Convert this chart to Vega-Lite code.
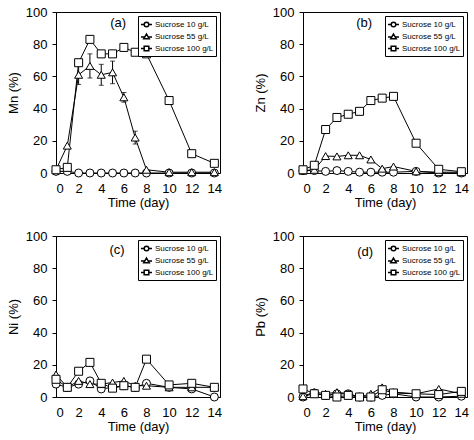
{
  "$schema": "https://vega.github.io/schema/vega-lite/v6.json",
  "padding": {"left": 6, "top": 5, "right": 5, "bottom": 5},
  "bounds": "flush",
  "spacing": {"row": 63, "column": 83},
  "columns": 2,
  "datasets": {
    "Mn": [
      {"d":0,"s":"Sucrose 10 g/L","v":1},{"d":1,"s":"Sucrose 10 g/L","v":1},{"d":2,"s":"Sucrose 10 g/L","v":0},{"d":3,"s":"Sucrose 10 g/L","v":0},{"d":4,"s":"Sucrose 10 g/L","v":0},{"d":5,"s":"Sucrose 10 g/L","v":0},{"d":6,"s":"Sucrose 10 g/L","v":0},{"d":7,"s":"Sucrose 10 g/L","v":0},{"d":8,"s":"Sucrose 10 g/L","v":0},{"d":10,"s":"Sucrose 10 g/L","v":0},{"d":12,"s":"Sucrose 10 g/L","v":0},{"d":14,"s":"Sucrose 10 g/L","v":0},
      {"d":0,"s":"Sucrose 55 g/L","v":2},{"d":1,"s":"Sucrose 55 g/L","v":17},{"d":2,"s":"Sucrose 55 g/L","v":61,"lo":55,"hi":67},{"d":3,"s":"Sucrose 55 g/L","v":66.5,"lo":59,"hi":74},{"d":4,"s":"Sucrose 55 g/L","v":61,"lo":54.5,"hi":67.5},{"d":5,"s":"Sucrose 55 g/L","v":62.5,"lo":55.5,"hi":69.5},{"d":6,"s":"Sucrose 55 g/L","v":47,"lo":44,"hi":50},{"d":7,"s":"Sucrose 55 g/L","v":22,"lo":18,"hi":26},{"d":8,"s":"Sucrose 55 g/L","v":2},{"d":10,"s":"Sucrose 55 g/L","v":0.5},{"d":12,"s":"Sucrose 55 g/L","v":0.5},{"d":14,"s":"Sucrose 55 g/L","v":0.5},
      {"d":0,"s":"Sucrose 100 g/L","v":2},{"d":1,"s":"Sucrose 100 g/L","v":3.5},{"d":2,"s":"Sucrose 100 g/L","v":68.5},{"d":3,"s":"Sucrose 100 g/L","v":83},{"d":4,"s":"Sucrose 100 g/L","v":74},{"d":5,"s":"Sucrose 100 g/L","v":74},{"d":6,"s":"Sucrose 100 g/L","v":78},{"d":7,"s":"Sucrose 100 g/L","v":75},{"d":8,"s":"Sucrose 100 g/L","v":74},{"d":10,"s":"Sucrose 100 g/L","v":45},{"d":12,"s":"Sucrose 100 g/L","v":12},{"d":14,"s":"Sucrose 100 g/L","v":6}
    ],
    "Zn": [
      {"d":0,"s":"Sucrose 10 g/L","v":1.5},{"d":1,"s":"Sucrose 10 g/L","v":1.5},{"d":2,"s":"Sucrose 10 g/L","v":1},{"d":3,"s":"Sucrose 10 g/L","v":1.5},{"d":4,"s":"Sucrose 10 g/L","v":1},{"d":5,"s":"Sucrose 10 g/L","v":0.5},{"d":6,"s":"Sucrose 10 g/L","v":0.5},{"d":7,"s":"Sucrose 10 g/L","v":0.5},{"d":8,"s":"Sucrose 10 g/L","v":0.5},{"d":10,"s":"Sucrose 10 g/L","v":1},{"d":12,"s":"Sucrose 10 g/L","v":0},{"d":14,"s":"Sucrose 10 g/L","v":0},
      {"d":0,"s":"Sucrose 55 g/L","v":1.5},{"d":1,"s":"Sucrose 55 g/L","v":2},{"d":2,"s":"Sucrose 55 g/L","v":10.5},{"d":3,"s":"Sucrose 55 g/L","v":10.3},{"d":4,"s":"Sucrose 55 g/L","v":11},{"d":5,"s":"Sucrose 55 g/L","v":11},{"d":6,"s":"Sucrose 55 g/L","v":8.4},{"d":7,"s":"Sucrose 55 g/L","v":2.7},{"d":8,"s":"Sucrose 55 g/L","v":4},{"d":10,"s":"Sucrose 55 g/L","v":1},{"d":12,"s":"Sucrose 55 g/L","v":0.5},{"d":14,"s":"Sucrose 55 g/L","v":0.5},
      {"d":0,"s":"Sucrose 100 g/L","v":2},{"d":1,"s":"Sucrose 100 g/L","v":4.8},{"d":2,"s":"Sucrose 100 g/L","v":27},{"d":3,"s":"Sucrose 100 g/L","v":34.5},{"d":4,"s":"Sucrose 100 g/L","v":36.5},{"d":5,"s":"Sucrose 100 g/L","v":38.3},{"d":6,"s":"Sucrose 100 g/L","v":45},{"d":7,"s":"Sucrose 100 g/L","v":46.5},{"d":8,"s":"Sucrose 100 g/L","v":47.6},{"d":10,"s":"Sucrose 100 g/L","v":18.5},{"d":12,"s":"Sucrose 100 g/L","v":2.3},{"d":14,"s":"Sucrose 100 g/L","v":0.8}
    ],
    "Ni": [
      {"d":0,"s":"Sucrose 10 g/L","v":8},{"d":1,"s":"Sucrose 10 g/L","v":6},{"d":2,"s":"Sucrose 10 g/L","v":8},{"d":3,"s":"Sucrose 10 g/L","v":10},{"d":4,"s":"Sucrose 10 g/L","v":5},{"d":5,"s":"Sucrose 10 g/L","v":6},{"d":6,"s":"Sucrose 10 g/L","v":7},{"d":7,"s":"Sucrose 10 g/L","v":6},{"d":8,"s":"Sucrose 10 g/L","v":8.5},{"d":10,"s":"Sucrose 10 g/L","v":6},{"d":12,"s":"Sucrose 10 g/L","v":5},{"d":14,"s":"Sucrose 10 g/L","v":0},
      {"d":0,"s":"Sucrose 55 g/L","v":14},{"d":1,"s":"Sucrose 55 g/L","v":6},{"d":2,"s":"Sucrose 55 g/L","v":10},{"d":3,"s":"Sucrose 55 g/L","v":8},{"d":4,"s":"Sucrose 55 g/L","v":8},{"d":5,"s":"Sucrose 55 g/L","v":9},{"d":6,"s":"Sucrose 55 g/L","v":10},{"d":7,"s":"Sucrose 55 g/L","v":7},{"d":8,"s":"Sucrose 55 g/L","v":7},{"d":10,"s":"Sucrose 55 g/L","v":6},{"d":12,"s":"Sucrose 55 g/L","v":6},{"d":14,"s":"Sucrose 55 g/L","v":6},
      {"d":0,"s":"Sucrose 100 g/L","v":11},{"d":1,"s":"Sucrose 100 g/L","v":6},{"d":2,"s":"Sucrose 100 g/L","v":16},{"d":3,"s":"Sucrose 100 g/L","v":21.5},{"d":4,"s":"Sucrose 100 g/L","v":8.5},{"d":5,"s":"Sucrose 100 g/L","v":5.5},{"d":6,"s":"Sucrose 100 g/L","v":7},{"d":7,"s":"Sucrose 100 g/L","v":6},{"d":8,"s":"Sucrose 100 g/L","v":23.5},{"d":10,"s":"Sucrose 100 g/L","v":7.5},{"d":12,"s":"Sucrose 100 g/L","v":8.5},{"d":14,"s":"Sucrose 100 g/L","v":6}
    ],
    "Pb": [
      {"d":0,"s":"Sucrose 10 g/L","v":0},{"d":1,"s":"Sucrose 10 g/L","v":2.5},{"d":2,"s":"Sucrose 10 g/L","v":1},{"d":3,"s":"Sucrose 10 g/L","v":2},{"d":4,"s":"Sucrose 10 g/L","v":2},{"d":5,"s":"Sucrose 10 g/L","v":0},{"d":6,"s":"Sucrose 10 g/L","v":0},{"d":7,"s":"Sucrose 10 g/L","v":1},{"d":8,"s":"Sucrose 10 g/L","v":2},{"d":10,"s":"Sucrose 10 g/L","v":0},{"d":12,"s":"Sucrose 10 g/L","v":0},{"d":14,"s":"Sucrose 10 g/L","v":0.5},
      {"d":0,"s":"Sucrose 55 g/L","v":0.5},{"d":1,"s":"Sucrose 55 g/L","v":3},{"d":2,"s":"Sucrose 55 g/L","v":2},{"d":3,"s":"Sucrose 55 g/L","v":3},{"d":4,"s":"Sucrose 55 g/L","v":2},{"d":5,"s":"Sucrose 55 g/L","v":0},{"d":6,"s":"Sucrose 55 g/L","v":2},{"d":7,"s":"Sucrose 55 g/L","v":6},{"d":8,"s":"Sucrose 55 g/L","v":3},{"d":10,"s":"Sucrose 55 g/L","v":2},{"d":12,"s":"Sucrose 55 g/L","v":5},{"d":14,"s":"Sucrose 55 g/L","v":2},
      {"d":0,"s":"Sucrose 100 g/L","v":5},{"d":1,"s":"Sucrose 100 g/L","v":2},{"d":2,"s":"Sucrose 100 g/L","v":1},{"d":3,"s":"Sucrose 100 g/L","v":0},{"d":4,"s":"Sucrose 100 g/L","v":1},{"d":5,"s":"Sucrose 100 g/L","v":0},{"d":6,"s":"Sucrose 100 g/L","v":0},{"d":7,"s":"Sucrose 100 g/L","v":4.5},{"d":8,"s":"Sucrose 100 g/L","v":2.5},{"d":10,"s":"Sucrose 100 g/L","v":2},{"d":12,"s":"Sucrose 100 g/L","v":1.5},{"d":14,"s":"Sucrose 100 g/L","v":3.5}
    ]
  },
  "concat": [
    {
      "width": 164, "height": 161,
      "data": {"name": "Mn"},
      "layer": [
        {"mark": {"type": "line", "color": "black", "strokeWidth": 1},
         "encoding": {
           "x": {"field": "d", "type": "quantitative", "scale": {"domain": [0, 14.5], "nice": false}, "axis": {"title": "Time (day)", "values": [0,2,4,6,8,10,12,14], "tickCount": 20, "labelOverlap": false}},
           "y": {"field": "v", "type": "quantitative", "scale": {"domain": [0, 100], "nice": false}, "axis": {"title": "Mn (%)", "values": [0,20,40,60,80,100], "tickCount": 20, "labelOverlap": false}},
           "detail": {"field": "s"}}},
        {"transform": [{"filter": "isValid(datum.lo)"}],
         "mark": {"type": "errorbar", "color": "black", "thickness": 1, "ticks": {"size": 5, "color": "black"}},
         "encoding": {
           "x": {"field": "d", "type": "quantitative"},
           "y": {"field": "lo", "type": "quantitative", "title": "Mn (%)"},
           "y2": {"field": "hi"}}},
        {"mark": {"type": "point", "filled": true, "fill": "white", "stroke": "black", "strokeWidth": 1, "size": 64, "opacity": 1},
         "encoding": {
           "x": {"field": "d", "type": "quantitative"},
           "y": {"field": "v", "type": "quantitative", "title": "Mn (%)"},
           "shape": {"field": "s", "type": "nominal", "scale": {"domain": ["Sucrose 10 g/L", "Sucrose 55 g/L", "Sucrose 100 g/L"], "range": ["circle", "triangle-up", "square"]}, "legend": null}}},
        {"transform": [{"filter": "datum.d < 0"}],
         "mark": {"type": "point", "filled": true, "fill": "white", "stroke": "black", "strokeWidth": 1, "size": 121, "opacity": 1},
         "encoding": {
           "shape": {"field": "s", "type": "nominal", "scale": {"domain": ["Sucrose 10 g/L", "Sucrose 55 g/L", "Sucrose 100 g/L"], "range": ["M-1,0H-0.42M0.42,0H1M0.42,0A0.42,0.42,0,1,1,-0.42,0A0.42,0.42,0,1,1,0.42,0Z", "M-1,0.1H-0.33M0.33,0.1H1M0,-0.45L0.5,0.4L-0.5,0.4Z", "M-1,0H-0.42M0.42,0H1M-0.42,-0.42H0.42V0.42H-0.42Z"]},
             "legend": {"title": null, "orient": "top-right", "offset": 4, "strokeColor": "black", "fillColor": "white", "padding": 2, "labelFontSize": 8, "labelOffset": 2, "rowPadding": 0, "symbolSize": 121,
               "encode": {"symbols": {"update": {"fill": {"value": "white"}, "stroke": {"value": "black"}, "strokeWidth": {"value": 1}, "opacity": {"value": 1}}}}}}}},
        {"data": {"values": [{}]},
         "mark": {"type": "text", "fontSize": 13, "color": "black"},
         "encoding": {"x": {"datum": 5.5, "type": "quantitative"}, "y": {"datum": 93, "type": "quantitative"}, "text": {"value": "(a)"}}}
      ],
      "resolve": {"scale": {"shape": "independent"}, "legend": {"shape": "independent"}}
    },
    {
      "width": 164, "height": 161,
      "data": {"name": "Zn"},
      "layer": [
        {"mark": {"type": "line", "color": "black", "strokeWidth": 1},
         "encoding": {
           "x": {"field": "d", "type": "quantitative", "scale": {"domain": [0, 14.5], "nice": false}, "axis": {"title": "Time (day)", "values": [0,2,4,6,8,10,12,14], "tickCount": 20, "labelOverlap": false}},
           "y": {"field": "v", "type": "quantitative", "scale": {"domain": [0, 100], "nice": false}, "axis": {"title": "Zn (%)", "values": [0,20,40,60,80,100], "tickCount": 20, "labelOverlap": false}},
           "detail": {"field": "s"}}},
        {"mark": {"type": "point", "filled": true, "fill": "white", "stroke": "black", "strokeWidth": 1, "size": 64, "opacity": 1},
         "encoding": {
           "x": {"field": "d", "type": "quantitative"},
           "y": {"field": "v", "type": "quantitative", "title": "Zn (%)"},
           "shape": {"field": "s", "type": "nominal", "scale": {"domain": ["Sucrose 10 g/L", "Sucrose 55 g/L", "Sucrose 100 g/L"], "range": ["circle", "triangle-up", "square"]}, "legend": null}}},
        {"transform": [{"filter": "datum.d < 0"}],
         "mark": {"type": "point", "filled": true, "fill": "white", "stroke": "black", "strokeWidth": 1, "size": 121, "opacity": 1},
         "encoding": {
           "shape": {"field": "s", "type": "nominal", "scale": {"domain": ["Sucrose 10 g/L", "Sucrose 55 g/L", "Sucrose 100 g/L"], "range": ["M-1,0H-0.42M0.42,0H1M0.42,0A0.42,0.42,0,1,1,-0.42,0A0.42,0.42,0,1,1,0.42,0Z", "M-1,0.1H-0.33M0.33,0.1H1M0,-0.45L0.5,0.4L-0.5,0.4Z", "M-1,0H-0.42M0.42,0H1M-0.42,-0.42H0.42V0.42H-0.42Z"]},
             "legend": {"title": null, "orient": "top-right", "offset": 4, "strokeColor": "black", "fillColor": "white", "padding": 2, "labelFontSize": 8, "labelOffset": 2, "rowPadding": 0, "symbolSize": 121,
               "encode": {"symbols": {"update": {"fill": {"value": "white"}, "stroke": {"value": "black"}, "strokeWidth": {"value": 1}, "opacity": {"value": 1}}}}}}}},
        {"data": {"values": [{}]},
         "mark": {"type": "text", "fontSize": 13, "color": "black"},
         "encoding": {"x": {"datum": 5.4, "type": "quantitative"}, "y": {"datum": 93, "type": "quantitative"}, "text": {"value": "(b)"}}}
      ],
      "resolve": {"scale": {"shape": "independent"}, "legend": {"shape": "independent"}}
    },
    {
      "width": 164, "height": 161,
      "data": {"name": "Ni"},
      "layer": [
        {"mark": {"type": "line", "color": "black", "strokeWidth": 1},
         "encoding": {
           "x": {"field": "d", "type": "quantitative", "scale": {"domain": [0, 14.5], "nice": false}, "axis": {"title": "Time (day)", "values": [0,2,4,6,8,10,12,14], "tickCount": 20, "labelOverlap": false}},
           "y": {"field": "v", "type": "quantitative", "scale": {"domain": [0, 100], "nice": false}, "axis": {"title": "Ni (%)", "values": [0,20,40,60,80,100], "tickCount": 20, "labelOverlap": false}},
           "detail": {"field": "s"}}},
        {"mark": {"type": "point", "filled": true, "fill": "white", "stroke": "black", "strokeWidth": 1, "size": 64, "opacity": 1},
         "encoding": {
           "x": {"field": "d", "type": "quantitative"},
           "y": {"field": "v", "type": "quantitative", "title": "Ni (%)"},
           "shape": {"field": "s", "type": "nominal", "scale": {"domain": ["Sucrose 10 g/L", "Sucrose 55 g/L", "Sucrose 100 g/L"], "range": ["circle", "triangle-up", "square"]}, "legend": null}}},
        {"transform": [{"filter": "datum.d < 0"}],
         "mark": {"type": "point", "filled": true, "fill": "white", "stroke": "black", "strokeWidth": 1, "size": 121, "opacity": 1},
         "encoding": {
           "shape": {"field": "s", "type": "nominal", "scale": {"domain": ["Sucrose 10 g/L", "Sucrose 55 g/L", "Sucrose 100 g/L"], "range": ["M-1,0H-0.42M0.42,0H1M0.42,0A0.42,0.42,0,1,1,-0.42,0A0.42,0.42,0,1,1,0.42,0Z", "M-1,0.1H-0.33M0.33,0.1H1M0,-0.45L0.5,0.4L-0.5,0.4Z", "M-1,0H-0.42M0.42,0H1M-0.42,-0.42H0.42V0.42H-0.42Z"]},
             "legend": {"title": null, "orient": "top-right", "offset": 4, "strokeColor": "black", "fillColor": "white", "padding": 2, "labelFontSize": 8, "labelOffset": 2, "rowPadding": 0, "symbolSize": 121,
               "encode": {"symbols": {"update": {"fill": {"value": "white"}, "stroke": {"value": "black"}, "strokeWidth": {"value": 1}, "opacity": {"value": 1}}}}}}}},
        {"data": {"values": [{}]},
         "mark": {"type": "text", "fontSize": 13, "color": "black"},
         "encoding": {"x": {"datum": 5.4, "type": "quantitative"}, "y": {"datum": 91, "type": "quantitative"}, "text": {"value": "(c)"}}}
      ],
      "resolve": {"scale": {"shape": "independent"}, "legend": {"shape": "independent"}}
    },
    {
      "width": 164, "height": 161,
      "data": {"name": "Pb"},
      "layer": [
        {"mark": {"type": "line", "color": "black", "strokeWidth": 1},
         "encoding": {
           "x": {"field": "d", "type": "quantitative", "scale": {"domain": [0, 14.5], "nice": false}, "axis": {"title": "Time (day)", "values": [0,2,4,6,8,10,12,14], "tickCount": 20, "labelOverlap": false}},
           "y": {"field": "v", "type": "quantitative", "scale": {"domain": [0, 100], "nice": false}, "axis": {"title": "Pb (%)", "values": [0,20,40,60,80,100], "tickCount": 20, "labelOverlap": false}},
           "detail": {"field": "s"}}},
        {"mark": {"type": "point", "filled": true, "fill": "white", "stroke": "black", "strokeWidth": 1, "size": 64, "opacity": 1},
         "encoding": {
           "x": {"field": "d", "type": "quantitative"},
           "y": {"field": "v", "type": "quantitative", "title": "Pb (%)"},
           "shape": {"field": "s", "type": "nominal", "scale": {"domain": ["Sucrose 10 g/L", "Sucrose 55 g/L", "Sucrose 100 g/L"], "range": ["circle", "triangle-up", "square"]}, "legend": null}}},
        {"transform": [{"filter": "datum.d < 0"}],
         "mark": {"type": "point", "filled": true, "fill": "white", "stroke": "black", "strokeWidth": 1, "size": 121, "opacity": 1},
         "encoding": {
           "shape": {"field": "s", "type": "nominal", "scale": {"domain": ["Sucrose 10 g/L", "Sucrose 55 g/L", "Sucrose 100 g/L"], "range": ["M-1,0H-0.42M0.42,0H1M0.42,0A0.42,0.42,0,1,1,-0.42,0A0.42,0.42,0,1,1,0.42,0Z", "M-1,0.1H-0.33M0.33,0.1H1M0,-0.45L0.5,0.4L-0.5,0.4Z", "M-1,0H-0.42M0.42,0H1M-0.42,-0.42H0.42V0.42H-0.42Z"]},
             "legend": {"title": null, "orient": "top-right", "offset": 4, "strokeColor": "black", "fillColor": "white", "padding": 2, "labelFontSize": 8, "labelOffset": 2, "rowPadding": 0, "symbolSize": 121,
               "encode": {"symbols": {"update": {"fill": {"value": "white"}, "stroke": {"value": "black"}, "strokeWidth": {"value": 1}, "opacity": {"value": 1}}}}}}}},
        {"data": {"values": [{}]},
         "mark": {"type": "text", "fontSize": 13, "color": "black"},
         "encoding": {"x": {"datum": 5.5, "type": "quantitative"}, "y": {"datum": 90, "type": "quantitative"}, "text": {"value": "(d)"}}}
      ],
      "resolve": {"scale": {"shape": "independent"}, "legend": {"shape": "independent"}}
    }
  ],
  "resolve": {"scale": {"shape": "independent"}, "legend": {"shape": "independent"}},
  "config": {
    "font": "Liberation Sans",
    "view": {"stroke": "black", "strokeWidth": 1},
    "axis": {"labelFontSize": 13, "titleFontSize": 13, "labelColor": "black", "titleColor": "black", "domainColor": "black", "tickColor": "black", "grid": false, "titleFontWeight": "normal", "labelFont": "Liberation Sans", "titleFont": "Liberation Sans", "labelOverlap": false},
    "axisX": {"ticks": false, "labelPadding": 9, "titlePadding": 1},
    "axisY": {"tickSize": 4, "labelPadding": 5, "titlePadding": 5},
    "legend": {"labelFont": "Liberation Sans", "labelColor": "black"}
  }
}
